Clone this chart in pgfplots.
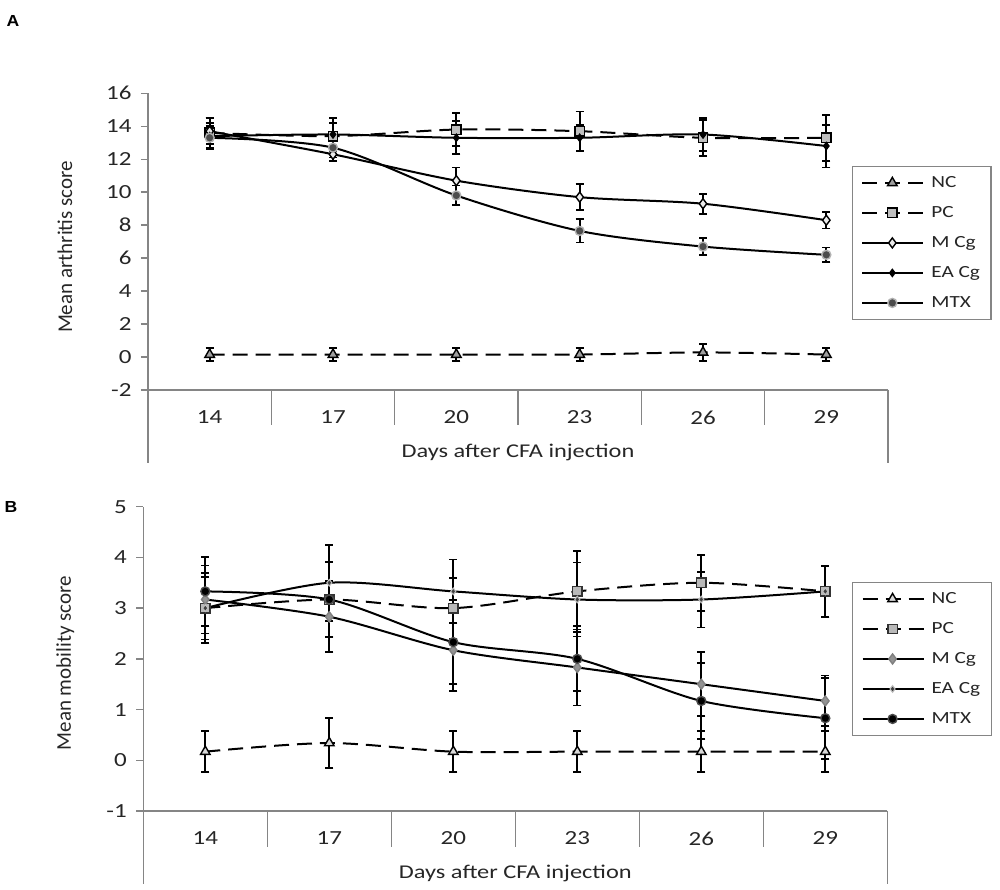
\documentclass[border=0pt]{standalone}
\usepackage{fontspec}
\setmainfont[FakeStretch=1.25]{Carlito}
\newfontfamily\ylabfont{Carlito}
\newfontfamily\panelfont[FakeStretch=1.1]{Liberation Sans}
\usepackage{pgfplots}
\pgfplotsset{compat=1.18}
\definecolor{axgray}{HTML}{858585}
\pgfplotsset{
  panel/.style={
    scale only axis, anchor=south west,
    xmin=0.5, xmax=6.5,
    axis x line=bottom, axis y line=left,
    axis line style={-, axgray, line width=1.4pt},
    xtick={1,...,6}, xticklabels={14,17,20,23,26,29},
    x tick style={draw=none},
    y tick style={axgray, line width=1.4pt},
    tick align=outside, major tick length=7pt,
    ticklabel style={font=\fontsize{20}{24}\selectfont, text=black!85},
    xticklabel style={yshift=-10pt},
    yticklabel style={xshift=-6pt},
    xlabel={Days after CFA injection},
    xlabel style={at={([yshift=-62pt]axis description cs:0.5,0)}, anchor=center, font=\fontsize{19.5}{23}\selectfont, text=black!85},
    clip=false,
    legend cell align=left,
    legend style={draw=axgray, line width=1.2pt, font=\fontsize{17}{20}\selectfont, anchor=north west, row sep=13.5pt, column sep=5pt, inner xsep=9pt, inner ysep=8pt, text=black!85},
    legend image code/.code={\draw[mark repeat=2,mark phase=2,##1] plot coordinates {(0pt,0pt) (30pt,0pt) (61pt,0pt)};},
    every axis plot/.append style={black, line width=2pt, smooth, tension=0.5},
    error bars/y dir=both, error bars/y explicit,
    error bars/error bar style={black, solid, line width=1.8pt},
    error bars/error mark options={rotate=90, mark size=4pt, black, solid, line width=1.8pt},
  },
  dsh/.style={dash pattern=on 15pt off 8pt},
}
\begin{document}
\begin{tikzpicture}
\useasboundingbox (0pt,0pt) rectangle (1000pt,890pt);
\node[font=\panelfont\bfseries\fontsize{16}{19}\selectfont] at (13pt,869pt) {A};
\node[font=\panelfont\bfseries\fontsize{16}{19}\selectfont] at (11pt,383pt) {B};

% ---------------- Panel A ----------------
\begin{axis}[panel,
  at={(148pt,500pt)}, width=740pt, height=296.7pt,
  ymin=-2, ymax=16, ytick={-2,0,2,4,6,8,10,12,14,16},
  yticklabels={-2,0,2,4,6,8,10,12,14,16},
  ylabel={Mean arthritis score},
  ylabel style={at={([xshift=-83pt]axis description cs:0,0.482)}, anchor=center, font=\ylabfont\fontsize{21}{25}\selectfont, text=black!85},
  legend style={at={(0.951,0.755)}},
]
\addplot[dsh, mark=triangle*, mark size=5.5pt, mark options={solid, fill=gray!75, draw=black, line width=1.4pt}]
  coordinates {(1,0.15) +- (0,0.4) (2,0.15) +- (0,0.4) (3,0.15) +- (0,0.4) (4,0.15) +- (0,0.4) (5,0.28) +- (0,0.5) (6,0.15) +- (0,0.4)};
\addlegendentry{NC}
\addplot[dsh, mark=square*, mark size=4.7pt, mark options={solid, fill=gray!50, draw=black, line width=1.4pt}]
  coordinates {(1,13.6) +- (0,0.9) (2,13.4) +- (0,0.8) (3,13.8) +- (0,1.0) (4,13.7) +- (0,1.2) (5,13.3) +- (0,1.1) (6,13.3) +- (0,1.4)};
\addlegendentry{PC}
\addplot[mark=diamond*, mark size=5pt, mark options={solid, fill=gray!15, draw=black, line width=1.4pt}]
  coordinates {(1,13.7) +- (0,0.8) (2,12.3) +- (0,0.4) (3,10.7) +- (0,0.8) (4,9.7) +- (0,0.8) (5,9.3) +- (0,0.6) (6,8.3) +- (0,0.5)};
\addlegendentry{M Cg}
\addplot[mark=diamond*, mark size=3pt, mark options={solid, fill=black, draw=black}]
  coordinates {(1,13.4) +- (0,0.8) (2,13.5) +- (0,1.0) (3,13.3) +- (0,1.0) (4,13.3) +- (0,0.8) (5,13.5) +- (0,1.0) (6,12.8) +- (0,1.3)};
\addlegendentry{EA Cg}
\addplot[mark=*, mark size=4.5pt, mark options={solid, fill=black!70, draw=gray!60, line width=1.4pt}]
  coordinates {(1,13.3) +- (0,0.7) (2,12.7) +- (0,0.6) (3,9.8) +- (0,0.6) (4,7.65) +- (0,0.7) (5,6.7) +- (0,0.5) (6,6.2) +- (0,0.45)};
\addlegendentry{MTX}
\draw[axgray, line width=1.4pt] (axis cs:0.5,-2) -- ++(0pt,-73pt);
\draw[axgray, line width=1.4pt] (axis cs:6.5,-2) -- ++(0pt,-73pt);
\pgfplotsinvokeforeach{1.5,2.5,3.5,4.5,5.5}{\draw[axgray, line width=1.4pt] (axis cs:#1,-2) -- ++(0pt,-35pt);}
\end{axis}

% ---------------- Panel B ----------------
\begin{axis}[panel,
  at={(143.3pt,79pt)}, width=744pt, height=304.3pt,
  ymin=-1, ymax=5, ytick={-1,0,1,2,3,4,5},
  yticklabels={-1,0,1,2,3,4,5},
  ylabel={Mean mobility score},
  ylabel style={at={([xshift=-78pt]axis description cs:0,0.486)}, anchor=center, font=\ylabfont\fontsize{21}{25}\selectfont, text=black!85},
  legend style={at={(0.9525,0.7525)}},
]
\addplot[dsh, mark=triangle*, mark size=5.5pt, mark options={solid, fill=gray!30, draw=black, line width=1.4pt}]
  coordinates {(1,0.17) +- (0,0.4) (2,0.34) +- (0,0.5) (3,0.17) +- (0,0.4) (4,0.17) +- (0,0.4) (5,0.17) +- (0,0.4) (6,0.17) +- (0,0.4)};
\addlegendentry{NC}
\addplot[dsh, mark=square*, mark size=4.7pt, mark options={solid, fill=gray!55, draw=black!80, line width=1.4pt}]
  coordinates {(1,3.0) +- (0,0.62) (2,3.17) +- (0,0.75) (3,3.0) +- (0,0.6) (4,3.33) +- (0,0.8) (5,3.5) +- (0,0.55) (6,3.33) +- (0,0.5)};
\addlegendentry{PC}
\addplot[mark=diamond*, mark size=5pt, mark options={solid, fill=gray!85, draw=gray, line width=1.4pt}]
  coordinates {(1,3.17) +- (0,0.67) (2,2.83) +- (0,0.7) (3,2.17) +- (0,0.8) (4,1.83) +- (0,0.75) (5,1.5) +- (0,0.63) (6,1.17) +- (0,0.5)};
\addlegendentry{M Cg}
\addplot[mark=diamond*, mark size=3.4pt, mark options={solid, fill=black!75, draw=gray!50, line width=1pt}]
  coordinates {(1,3.0) +- (0,0.69) (2,3.5) +- (0,0.75) (3,3.33) +- (0,0.63) (4,3.17) +- (0,0.73) (5,3.17) +- (0,0.55) (6,3.33) +- (0,0.5)};
\addlegendentry{EA Cg}
\addplot[mark=*, mark size=4.5pt, mark options={solid, fill=black, draw=black!70, line width=1.4pt}]
  coordinates {(1,3.33) +- (0,0.68) (2,3.17) +- (0,0.73) (3,2.33) +- (0,0.83) (4,2.0) +- (0,0.64) (5,1.17) +- (0,0.75) (6,0.83) +- (0,0.8)};
\addlegendentry{MTX}
\draw[axgray, line width=1.4pt] (axis cs:0.5,-1) -- ++(0pt,-73pt);
\draw[axgray, line width=1.4pt] (axis cs:6.5,-1) -- ++(0pt,-73pt);
\pgfplotsinvokeforeach{1.5,2.5,3.5,4.5,5.5}{\draw[axgray, line width=1.4pt] (axis cs:#1,-1) -- ++(0pt,-36pt);}
\end{axis}
\end{tikzpicture}
\end{document}
